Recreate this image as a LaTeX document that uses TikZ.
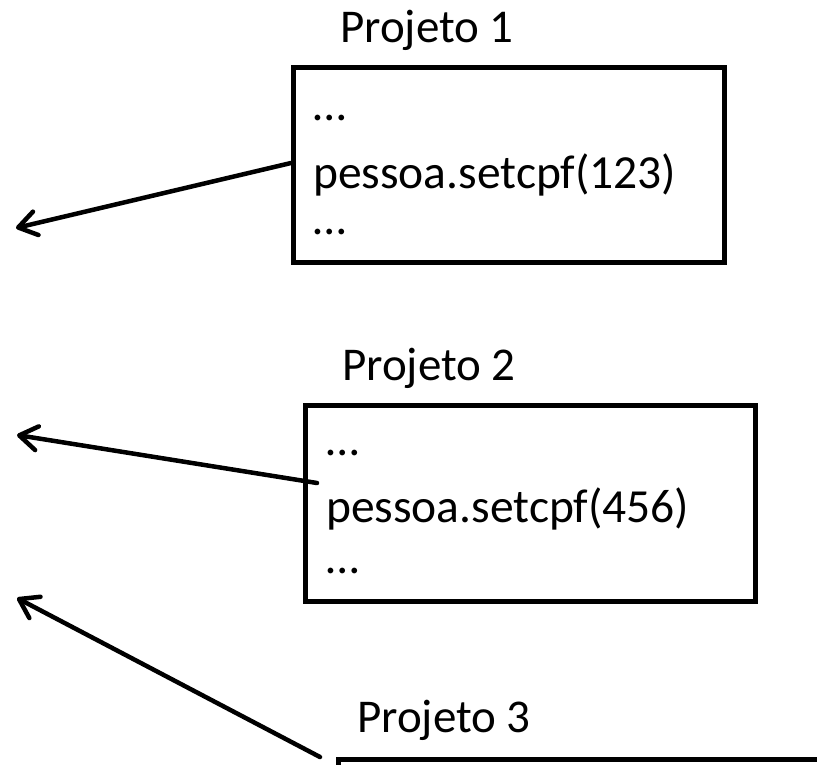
\documentclass[tikz,border=0pt]{standalone}
\usepackage{fontspec}
\setmainfont{Carlito}
\usetikzlibrary{arrows.meta}
\begin{document}
\begin{tikzpicture}[x=1pt,y=-1pt,
  box/.style={draw=black,line width=4.5pt,rectangle,inner sep=0pt,anchor=north west,fill=white},
  code/.style={anchor=base west,inner sep=0pt,font=\fontsize{47.5}{56}\selectfont},
  title/.style={anchor=base west,inner sep=0pt,font=\fontsize{47}{56}\selectfont},
  link/.style={line width=4.5pt,line cap=round,-{Straight Barb[length=18pt,width=24pt,line cap=round,line join=round]}}]
\useasboundingbox (0,0) rectangle (817,764);
\clip (0,0) rectangle (817,764);
\fill[white] (0,0) rectangle (817,764);
% boxes
\node[box,minimum width=431pt,minimum height=195pt] (b1) at (291,65) {};
\node[box,minimum width=450pt,minimum height=196pt] (b2) at (303,403) {};
\node[box,minimum width=560pt,minimum height=200pt] (b3) at (336,757) {};
% titles
\node[title] (p1) at (340,42) {Projeto 1};
\node[title] (p2) at (342,380) {Projeto 2};
\node[title] (p3) at (357,732) {Projeto 3};
% code lines
\node[code] (c1a) at (313,120) {…};
\node[code] (c1b) at (313,188) {pessoa.setcpf(123)};
\node[code] (c1c) at (313,234) {…};
\node[code] (c2a) at (326,455) {…};
\node[code] (c2b) at (326,522) {pessoa.setcpf(456)};
\node[code] (c2c) at (326,573) {…};
% connector ends
\coordinate (s1) at (291,163);
\coordinate (t1) at (16,228);
\coordinate (s2) at (317,483);
\coordinate (t2) at (17,435);
\coordinate (s3) at (320,757);
\coordinate (t3) at (17,598);
\draw[link] (s1) -- (t1);
\draw[link] (s2) -- (t2);
\draw[link] (s3) -- (t3);
\end{tikzpicture}
\end{document}
